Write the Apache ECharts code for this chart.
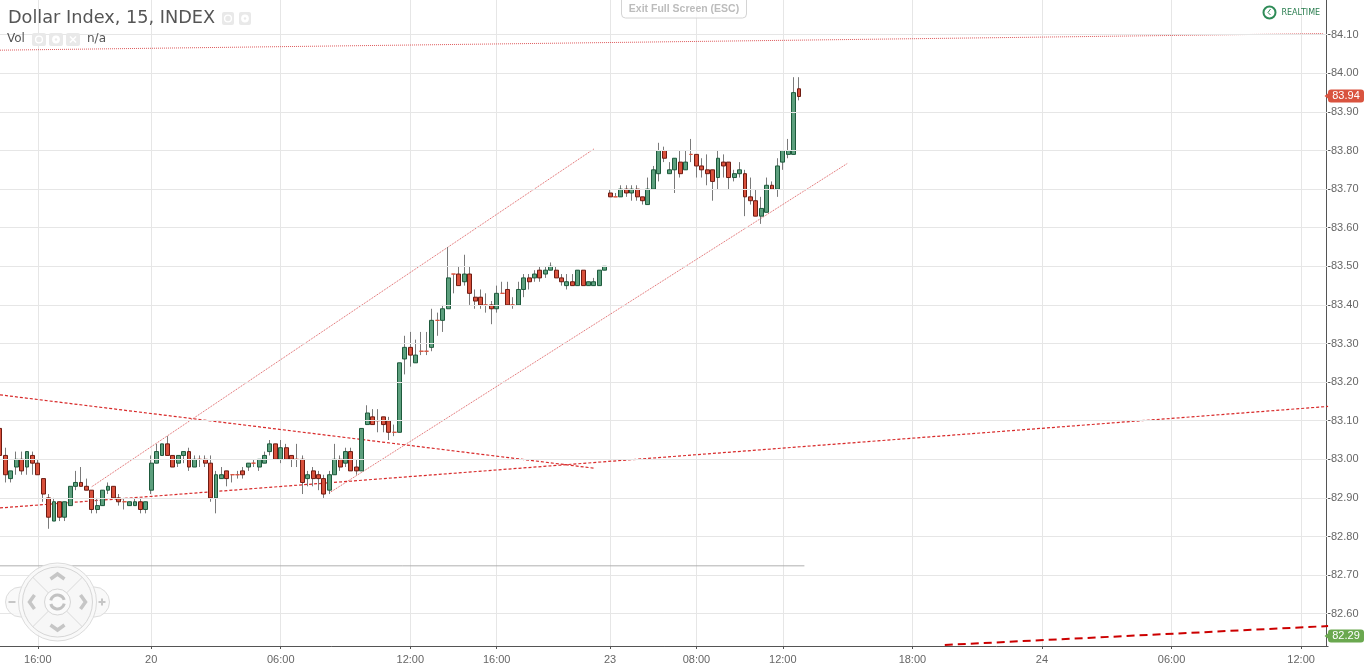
<!DOCTYPE html>
<html><head><meta charset="utf-8">
<script src="https://cdn.jsdelivr.net/npm/echarts@6/dist/echarts.min.js"></script>
<style>html,body{margin:0;padding:0;background:#fff}#c{width:1366px;height:667px}</style>
</head><body><div id="c"></div>
<script>
const opens = [
83.08,83.01,82.95,82.98,83.00,82.98,83.01,82.99,82.95,82.90,
82.84,82.89,82.85,82.88,82.93,82.94,82.93,82.92,82.87,82.88,
82.92,82.93,82.90,82.89,82.88,82.88,82.89,82.87,82.92,82.99,
83.01,83.04,83.01,82.99,83.01,83.02,82.98,83.00,83.00,82.99,
82.90,82.95,82.97,82.96,82.96,82.97,82.98,82.99,82.98,82.99,
83.02,83.04,83.00,83.03,83.01,83.00,83.00,82.95,82.97,82.96,
82.95,82.92,82.96,83.00,82.99,83.02,82.98,82.97,83.09,83.11,
83.10,83.11,83.10,83.07,83.07,83.26,83.29,83.25,83.28,83.28,
83.29,83.36,83.36,83.39,83.48,83.48,83.46,83.48,83.42,83.42,
83.40,83.40,83.39,83.43,83.44,83.40,83.40,83.44,83.47,83.47,
83.49,83.48,83.49,83.49,83.47,83.45,83.46,83.45,83.49,83.45,
83.45,83.45,83.49,83.69,83.68,83.68,83.70,83.69,83.70,83.68,
83.66,83.70,83.74,83.80,83.74,83.75,83.77,83.75,83.79,83.79,
83.76,83.75,83.75,83.73,83.77,83.77,83.73,83.74,83.74,83.68,
83.67,83.63,83.64,83.71,83.70,83.77,83.79,83.79,83.96];
const closes = [
83.01,82.96,82.97,83.00,82.97,83.02,82.99,82.96,82.91,82.85,
82.89,82.85,82.89,82.93,82.94,82.93,82.92,82.87,82.88,82.92,
82.93,82.90,82.89,82.89,82.89,82.89,82.87,82.89,82.99,83.02,
83.04,83.01,82.98,83.01,83.02,82.98,83.00,83.00,82.99,82.90,
82.96,82.96,82.95,82.96,82.96,82.96,82.99,82.99,83.00,83.01,
83.04,83.00,83.03,83.00,83.00,83.00,82.94,82.96,82.95,82.95,
82.91,82.96,83.00,82.98,83.02,82.97,82.97,83.08,83.12,83.09,
83.10,83.09,83.07,83.07,83.25,83.29,83.27,83.27,83.28,83.28,
83.36,83.36,83.39,83.47,83.48,83.45,83.48,83.43,83.41,83.40,
83.40,83.39,83.43,83.43,83.40,83.40,83.44,83.47,83.46,83.48,
83.47,83.49,83.50,83.47,83.46,83.46,83.45,83.49,83.45,83.46,
83.46,83.49,83.50,83.68,83.68,83.70,83.69,83.70,83.68,83.67,
83.70,83.75,83.80,83.78,83.75,83.78,83.74,83.77,83.79,83.76,
83.75,83.74,83.72,83.78,83.76,83.73,83.74,83.75,83.68,83.67,
83.63,83.65,83.71,83.70,83.76,83.80,83.80,83.95,83.94];
const lows = [
83.01,82.94,82.94,82.96,82.96,82.96,82.96,82.96,82.89,82.82,
82.84,82.84,82.84,82.88,82.92,82.93,82.92,82.86,82.86,82.88,
82.91,82.90,82.88,82.87,82.88,82.88,82.86,82.86,82.91,82.99,
83.01,83.01,82.98,82.98,82.99,82.97,82.98,82.98,82.98,82.89,
82.86,82.95,82.93,82.94,82.95,82.95,82.97,82.98,82.97,82.99,
83.01,83.00,82.99,83.00,82.98,82.98,82.91,82.93,82.93,82.92,
82.90,82.91,82.96,82.97,82.98,82.97,82.96,82.97,83.09,83.09,
83.07,83.07,83.05,83.06,83.07,83.22,83.24,83.25,83.27,83.27,
83.28,83.32,83.33,83.39,83.43,83.45,83.45,83.40,83.39,83.39,
83.38,83.35,83.38,83.43,83.40,83.39,83.40,83.42,83.44,83.46,
83.46,83.47,83.49,83.47,83.45,83.44,83.45,83.45,83.45,83.45,
83.45,83.45,83.49,83.68,83.68,83.68,83.68,83.67,83.67,83.66,
83.66,83.70,83.72,83.77,83.74,83.69,83.73,83.75,83.77,83.73,
83.73,83.71,83.67,83.70,83.73,83.70,83.72,83.73,83.63,83.66,
83.63,83.61,83.64,83.70,83.68,83.75,83.78,83.79,83.93];
const highs = [
83.09,83.03,82.97,83.02,83.02,83.02,83.02,83.00,82.95,82.91,
82.90,82.89,82.89,82.93,82.97,82.98,82.95,82.92,82.90,82.92,
82.94,82.93,82.91,82.90,82.89,82.90,82.90,82.89,83.01,83.04,
83.04,83.06,83.01,83.01,83.02,83.03,83.01,83.01,83.01,83.01,
82.97,82.98,82.97,82.96,82.97,82.98,82.99,83.00,83.00,83.02,
83.05,83.04,83.05,83.04,83.01,83.04,83.01,82.97,82.98,82.97,
82.96,82.97,83.04,83.01,83.03,83.03,83.00,83.08,83.14,83.13,
83.13,83.11,83.11,83.09,83.25,83.32,83.33,83.31,83.33,83.33,
83.39,83.38,83.40,83.55,83.48,83.50,83.53,83.50,83.44,83.44,
83.43,83.41,83.45,83.46,83.46,83.42,83.46,83.48,83.48,83.49,
83.50,83.50,83.51,83.50,83.48,83.48,83.48,83.49,83.49,83.46,
83.47,83.49,83.50,83.70,83.69,83.71,83.71,83.71,83.71,83.68,
83.73,83.76,83.82,83.81,83.77,83.78,83.80,83.80,83.83,83.79,
83.78,83.79,83.75,83.80,83.79,83.77,83.75,83.77,83.75,83.73,
83.70,83.68,83.73,83.72,83.78,83.80,83.83,83.99,83.99];
const tickIndexes = [7,28,52,76,92,113,129,145,169,193,217,241];
const tickLabels = ['16:00','20','06:00','12:00','16:00','23','08:00','12:00','18:00','24','06:00','12:00'];
const priceTicks = [82.6,82.7,82.8,82.9,83.0,83.1,83.2,83.3,83.4,83.5,83.6,83.7,83.8,83.9,84.0,84.1];
const slotCount = 247;
const topDotted = [[0,84.06],[245,84.103]];
const channelUpper = [[17,82.929],[110,83.804]];
const channelLower = [[61,82.913],[157,83.767]];
const fallingDashed = [[0,83.167],[110,82.977]];
const risingDashed = [[0,82.874],[246,83.137]];
const lowerBold = [[175,82.519],[246,82.568]];
const volumeFlat = [[0,82.724],[149,82.724]];
const priceLast = '83.94', pricePrev = '82.29';

const categories = Array.from({length: slotCount}, (_, i) => String(i));
const GREEN_F='#5c9f7d', GREEN_B='#1d5a3c', RED_F='#d9503b', RED_B='#6e1b12', WICK='#7a7a7a';

function line(data, color, type, width){
  return {type:'line', data, showSymbol:false, symbol:'none', silent:true, animation:false, clip:true, z:1,
    lineStyle:{color, type, width}};
}
const wicks = opens.map((o,i)=>[o,closes[i],lows[i],highs[i]]);
const bodies = opens.map((o,i)=>[o,closes[i],Math.min(o,closes[i]),Math.max(o,closes[i])]);

function icon(x,y,w,h,kind){
  const items=[{type:'rect',shape:{x,y,width:w,height:h,r:2},style:{fill:'#e9e9e9'}}];
  const cx=x+w/2, cy=y+h/2;
  if(kind==='x'){
    items.push({type:'line',shape:{x1:cx-3,y1:cy-3,x2:cx+3,y2:cy+3},style:{stroke:'#fff',lineWidth:1.6}});
    items.push({type:'line',shape:{x1:cx+3,y1:cy-3,x2:cx-3,y2:cy+3},style:{stroke:'#fff',lineWidth:1.6}});
  } else {
    items.push({type:'circle',shape:{cx,cy,r:kind==='gear'?3.2:3.4},style:{fill:kind==='gear'?'#fff':'none',stroke:'#fff',lineWidth:1.4}});
    if(kind==='gear') items.push({type:'circle',shape:{cx,cy,r:1.2},style:{fill:'#e9e9e9'}});
  }
  return items;
}
function arrow(pts){return {type:'polyline',shape:{points:pts},style:{stroke:'#c6c6c6',fill:'none',lineWidth:3.5}};}
const NX=57.5, NY=602;
const nav=[
 {type:'circle',shape:{cx:NX-37,cy:NY,r:15},style:{fill:'rgba(248,248,248,0.85)',stroke:'#dcdcdc',lineWidth:1}},
 {type:'circle',shape:{cx:NX+37,cy:NY,r:15},style:{fill:'rgba(248,248,248,0.85)',stroke:'#dcdcdc',lineWidth:1}},
 {type:'circle',shape:{cx:NX,cy:NY,r:39},style:{fill:'rgba(248,248,248,0.9)',stroke:'#dcdcdc',lineWidth:1}},
 {type:'circle',shape:{cx:NX,cy:NY,r:35},style:{fill:'rgba(246,246,246,0.7)',stroke:'#d6d6d6',lineWidth:1}},
 {type:'line',shape:{x1:NX-25,y1:NY-25,x2:NX-9,y2:NY-9},style:{stroke:'#dadada'}},
 {type:'line',shape:{x1:NX+25,y1:NY-25,x2:NX+9,y2:NY-9},style:{stroke:'#dadada'}},
 {type:'line',shape:{x1:NX-25,y1:NY+25,x2:NX-9,y2:NY+9},style:{stroke:'#dadada'}},
 {type:'line',shape:{x1:NX+25,y1:NY+25,x2:NX+9,y2:NY+9},style:{stroke:'#dadada'}},
 {type:'circle',shape:{cx:NX,cy:NY,r:13},style:{fill:'rgba(250,250,250,0.9)',stroke:'#d6d6d6'}},
 {type:'arc',shape:{cx:NX,cy:NY,r:7,startAngle:-2.9,endAngle:-0.3},style:{stroke:'#c2c2c2',lineWidth:3,fill:'none'}},
 {type:'arc',shape:{cx:NX,cy:NY,r:7,startAngle:0.25,endAngle:2.85},style:{stroke:'#c2c2c2',lineWidth:3,fill:'none'}},
 arrow([[NX-7,NY-23],[NX,NY-28],[NX+7,NY-23]]),
 arrow([[NX-7,NY+23],[NX,NY+28],[NX+7,NY+23]]),
 arrow([[NX-23,NY-7],[NX-28,NY],[NX-23,NY+7]]),
 arrow([[NX+23,NY-7],[NX+28,NY],[NX+23,NY+7]]),
 {type:'line',shape:{x1:NX-49,y1:NY,x2:NX-42,y2:NY},style:{stroke:'#c6c6c6',lineWidth:2}},
 {type:'line',shape:{x1:NX+41,y1:NY,x2:NX+48,y2:NY},style:{stroke:'#c6c6c6',lineWidth:2}},
 {type:'line',shape:{x1:NX+44.5,y1:NY-3.5,x2:NX+44.5,y2:NY+3.5},style:{stroke:'#c6c6c6',lineWidth:2}}
];
function priceTag(y,text,fill){
  return [
   {type:'polygon',shape:{points:[[1324.5,y],[1328.5,y-3],[1328.5,y+3]]},style:{fill}},
   {type:'rect',shape:{x:1328,y:y-6.5,width:36,height:13,r:3},style:{fill}},
   {type:'text',x:1346,y:y,style:{text,fill:'#fff',font:'11px "Liberation Sans"',align:'center',verticalAlign:'middle'}}
  ];
}
const T=(text,x,y,font,fill,align)=>({type:'text',x,y,style:{text,font,fill,align:align||'left',verticalAlign:'middle'}});
const graphics=[
 T('Dollar Index, 15, INDEX',8,18.5,'17.7px "DejaVu Sans"','#555'),
 ...icon(222,12,12,13,'eye'),...icon(239,12,12,13,'gear'),
 T('Vol',7,39,'12px "DejaVu Sans"','#555'),
 ...icon(32,33,14,13,'eye'),...icon(49,33,14,13,'gear'),...icon(66,33,14,13,'x'),
 T('n/a',87,39,'12px "DejaVu Sans"','#555'),
 {type:'rect',shape:{x:621.5,y:-4,width:125,height:22,r:4},style:{fill:'rgba(255,255,255,0.75)',stroke:'#d4d4d4'}},
 T('Exit Full Screen (ESC)',684,9,'bold 10.5px "Liberation Sans"','#bcbcbc','center'),
 {type:'circle',shape:{cx:1269.5,cy:12.5,r:6},style:{fill:'none',stroke:'#2e8b57',lineWidth:2}},
 {type:'polyline',shape:{points:[[1270.5,9],[1268,12.5],[1270.5,15]]},style:{fill:'none',stroke:'#2e8b57',lineWidth:1}},
 T('REALTIME',1281.5,12.5,'8px "DejaVu Sans"','#2a7d4f'),
 ...nav,
 ...priceTag(96,priceLast,'#d9533f'),
 ...priceTag(636,pricePrev,'#6aa84f')
].map(g=>Object.assign({silent:true,z:100},g));

const chart = echarts.init(document.getElementById('c'),null,{renderer:'canvas'});
chart.setOption({
  animation:false, backgroundColor:'#fff',
  grid:{left:-0.3,right:37.9,top:0,bottom:21,containLabel:false},
  xAxis:{type:'category',data:categories,boundaryGap:false,
    axisLine:{lineStyle:{color:'#555',width:1}},
    axisTick:{show:true,length:3,lineStyle:{color:'#555'},interval:(i)=>tickIndexes.includes(i)},
    axisLabel:{interval:(i)=>tickIndexes.includes(i),hideOverlap:false,margin:8,fontSize:11,color:'#666',fontFamily:'Liberation Sans',
      formatter:(v,i)=>{const k=tickIndexes.indexOf(i);return k<0?'':tickLabels[k];}},
    splitLine:{show:true,interval:(i)=>tickIndexes.includes(i),lineStyle:{color:'#e6e6e6',width:1}}},
  yAxis:{type:'value',position:'right',offset:-1.6,min:82.5163,max:84.19,scale:true,
    axisLine:{show:true,lineStyle:{color:'#555',width:1}},
    axisTick:{show:true,length:4,lineStyle:{color:'#555'},customValues:priceTicks},
    axisLabel:{fontSize:11,margin:4.5,color:'#666',fontFamily:'Liberation Sans',customValues:priceTicks,
      formatter:(v)=>v.toFixed(2)},
    splitLine:{show:false}},
  series:[
    Object.assign(line(volumeFlat,'#b0b0b0','solid',1),{
      markLine:{silent:true,symbol:'none',animation:false,label:{show:false},
        lineStyle:{color:'#e6e6e6',width:1,type:'solid'},
        data:priceTicks.map(v=>({yAxis:v}))},z:1}),
    line(topDotted,'#dd5a5c','dotted',1),
    line(channelUpper,'#dd5a5c','dotted',1),
    line(channelLower,'#dd5a5c','dotted',1),
    line(fallingDashed,'#d82a2a',[3,2],1.2),
    line(risingDashed,'#d82a2a',[3,2],1.2),
    line(lowerBold,'#cc0000',[8,5],2),
    {type:'candlestick',data:wicks,barWidth:1,silent:true,z:2,
      itemStyle:{color:WICK,color0:WICK,borderColor:WICK,borderColor0:WICK,borderColorDoji:WICK,borderWidth:1}},
    {type:'candlestick',data:bodies,barWidth:4.4,silent:true,z:3,
      itemStyle:{color:GREEN_F,color0:RED_F,borderColor:GREEN_B,borderColor0:RED_B,borderColorDoji:'#d9503b',borderWidth:1}}
  ],
  graphic:graphics
});
</script></body></html>
